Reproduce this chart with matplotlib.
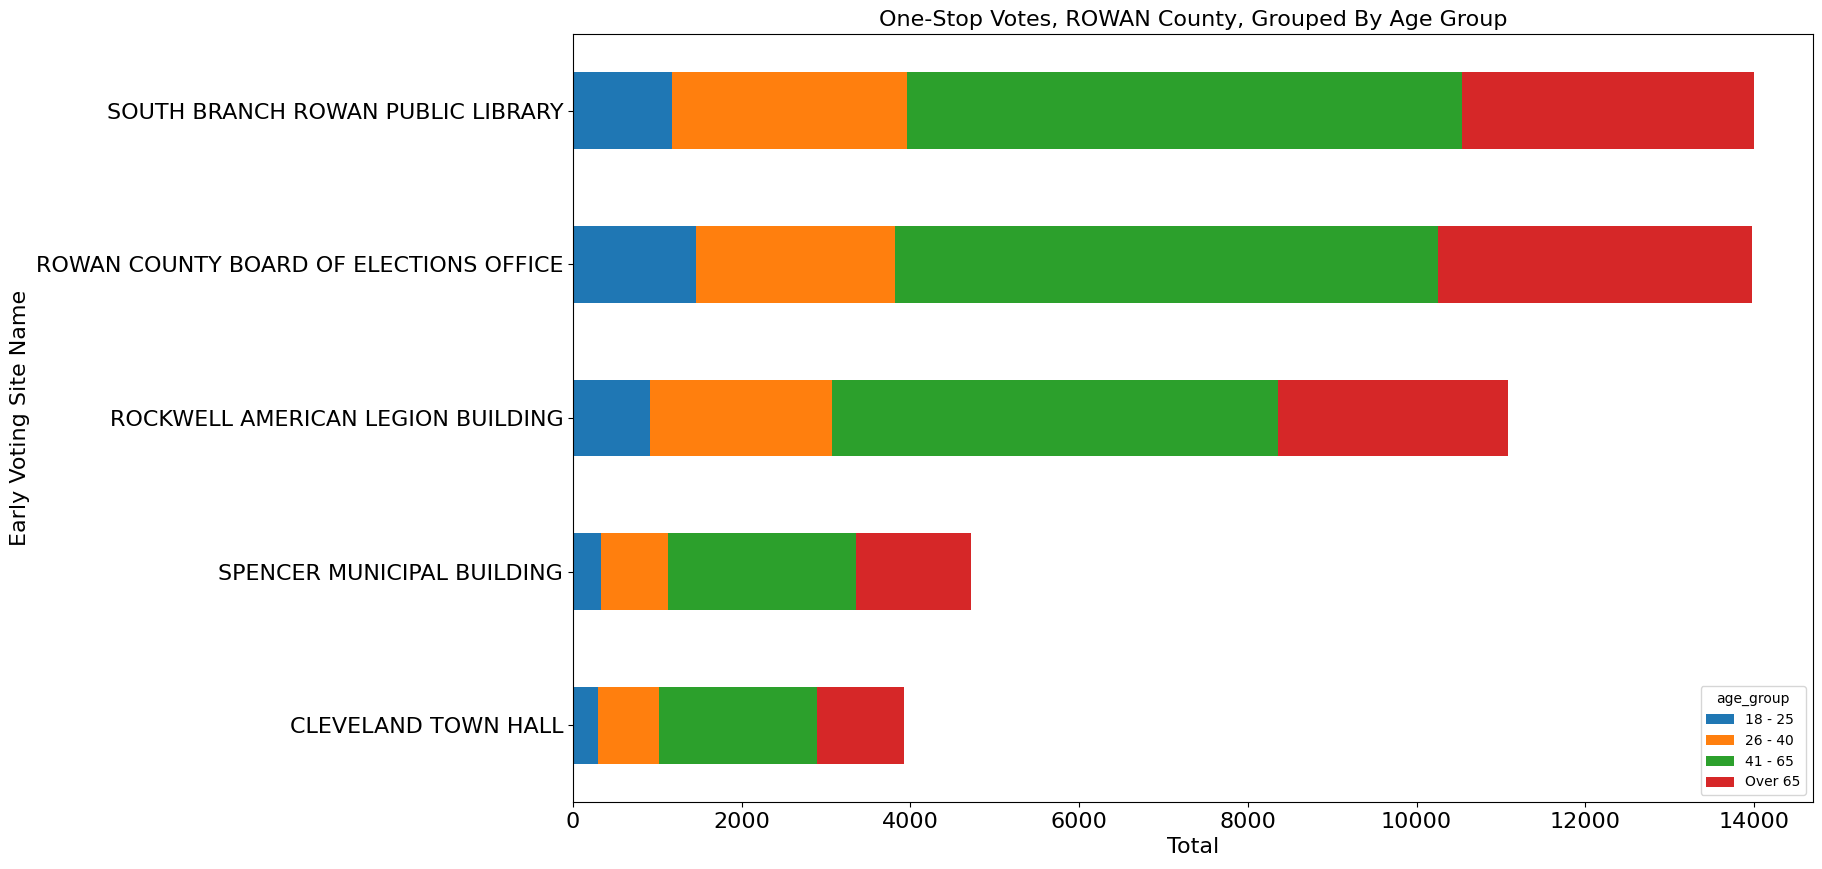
import pandas as pd
import matplotlib.pyplot as plt

sites = ["CLEVELAND TOWN HALL", "SPENCER MUNICIPAL BUILDING",
         "ROCKWELL AMERICAN LEGION BUILDING", "ROWAN COUNTY BOARD OF ELECTIONS OFFICE",
         "SOUTH BRANCH ROWAN PUBLIC LIBRARY"]
age_groups = ["18 - 25", "26 - 40", "41 - 65", "Over 65"]

age_18_25 = [302, 330, 907, 1460, 1172]
age_26_40 = [714, 797, 2165, 2356, 2790]
age_41_65 = [1876, 2225, 5280, 6444, 6575]
age_over_65 = [1034, 1364, 2735, 3720, 3463]

df = pd.DataFrame({"18 - 25": age_18_25, "26 - 40": age_26_40,
                   "41 - 65": age_41_65, "Over 65": age_over_65}, index=sites)
df.columns.name = "age_group"
df.index.name = "Early Voting Site Name"

fig = plt.figure(figsize=(18.22, 8.69), dpi=100)
ax = fig.add_axes([573 / 1822, 1 - 802 / 869, (1813 - 573) / 1822, (802 - 34) / 869])
df.plot.barh(stacked=True, ax=ax, fontsize=16)

ax.set_title("One-Stop Votes, ROWAN County, Grouped By Age Group", fontsize=16)
ax.set_xlabel("Total", fontsize=16)
ax.set_ylabel("Early Voting Site Name", fontsize=16)
ax.legend(title="age_group", loc="lower right")

fig.savefig("out.png", dpi=100)
